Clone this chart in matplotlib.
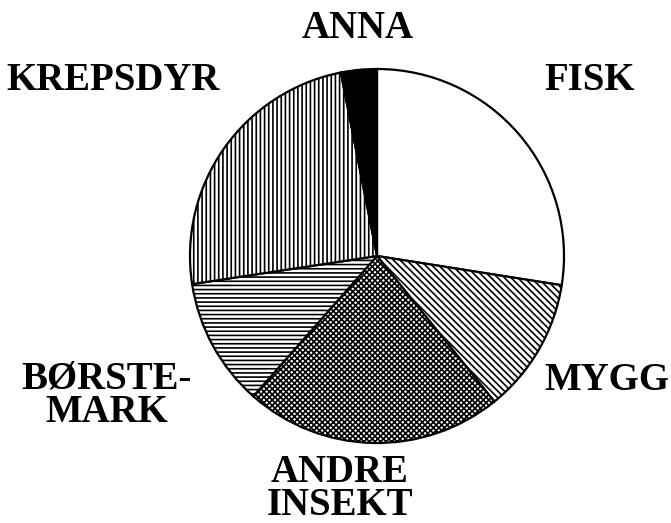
import matplotlib
matplotlib.use("Agg")
import matplotlib.pyplot as plt

# diet shares (percent), clockwise from 12 o'clock
labels = ["FISK", "MYGG", "ANDRE\nINSEKT", "BØRSTE-\nMARK", "KREPSDYR", "ANNA"]
values = [27.5, 11.7, 22.3, 11.1, 24.3, 3.1]
hatches = ["", "\\\\\\\\\\", "xxxxxx", "----", "||||", ""]
faces = ["white", "white", "white", "white", "white", "black"]

# label centres (pixels, origin top-left)
label_x = [590, 607, 340, 107, 113, 358]
label_y = [80, 381, 489, 396, 80, 28]

plt.rcParams["hatch.linewidth"] = 1.2
plt.rcParams["font.family"] = ["Liberation Serif", "DejaVu Serif"]

W, H = 671, 523
fig = plt.figure(figsize=(W / 100, H / 100), dpi=100)
ax = fig.add_axes([0, 0, 1, 1])

wedges, _ = ax.pie(values, startangle=90, counterclock=False,
                   center=(377, H - 256), radius=187, frame=True,
                   colors=faces,
                   wedgeprops=dict(edgecolor="black", linewidth=1.6))
for w, h in zip(wedges, hatches):
    w.set_hatch(h)
ax.set_xlim(0, W)
ax.set_ylim(0, H)
ax.set_aspect("equal")
ax.axis("off")

for lab, x, y in zip(labels, label_x, label_y):
    ax.text(x, H - y, lab, ha="center", va="center", fontsize=28,
            fontweight="bold", linespacing=0.88)

fig.savefig("out.png", dpi=100)
